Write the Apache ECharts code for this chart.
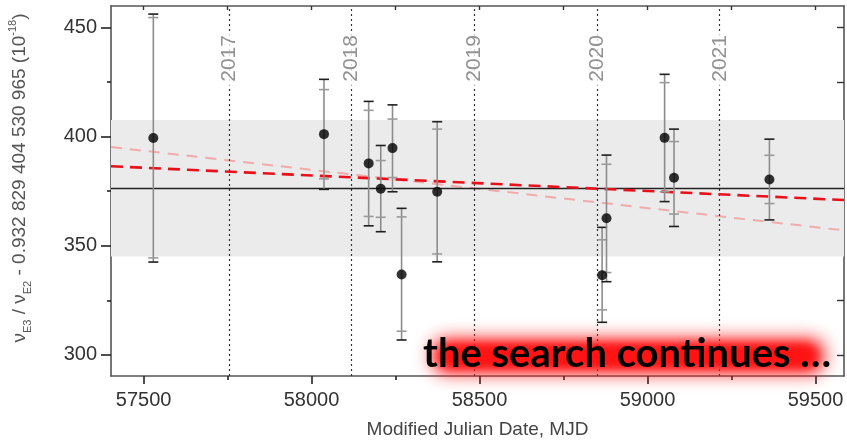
<!DOCTYPE html>
<html>
<head>
<meta charset="utf-8">
<script src="https://cdn.jsdelivr.net/npm/echarts@6/dist/echarts.min.js"></script>
<style>
html,body{margin:0;padding:0;background:#fff;}
#chart{width:847px;height:444px;}
</style>
</head>
<body>
<div id="chart"></div>
<script>
// ---- data ----
const mjd      = [57529, 58037, 58170, 58206, 58241, 58268, 58374, 58865, 58878, 59051, 59079, 59363];
const ratio    = [399.3, 401.1, 387.7, 376.1, 394.7, 336.8, 374.7, 336.5, 362.6, 399.4, 381.1, 380.3];
const totLow   = [342.5, 375.8, 359.1, 356.4, 374.7, 306.8, 342.6, 314.9, 333.5, 370.2, 358.8, 361.8];
const totHigh  = [456.1, 426.2, 416.1, 395.9, 414.5, 367.1, 406.8, 358.4, 391.5, 428.5, 403.4, 398.8];
const statLow  = [344.4, 380.6, 363.4, 363.0, 381.2, 310.8, 346.2, 320.6, 337.7, 374.7, 364.5, 369.3];
const statHigh = [454.5, 421.5, 412.0, 389.0, 408.0, 363.2, 403.4, 352.7, 387.3, 424.7, 397.7, 391.4];

const xMajor = [57500, 58000, 58500, 59000, 59500];
const xMinor = [57750, 58250, 58750, 59250];
const yMajor = [300, 350, 400, 450];
const yMinor = [325, 375, 425];

const yearMJD    = [57754, 58119, 58484, 58849, 59215];
const yearLabels = ['2017', '2018', '2019', '2020', '2021'];
const yearLabelY = [435.8, 435.8, 435.8, 435.8, 435.8];

const meanValue = [376.2];
const bandRange = [345.0, 407.6];
const fitX      = [57403, 59585];
const fitY      = [386.4, 370.9];
const trendY    = [395.2, 357.0];

const X_MIN = 57403, X_MAX = 59585;
const Y_MIN = 290.3, Y_MAX = 459.8;

const FONT = 'Liberation Sans, Arial, sans-serif';
const plain = v => String(Math.round(v));

const chart = echarts.init(document.getElementById('chart'));

const baseX = {type: 'value', min: X_MIN, max: X_MAX, splitLine: {show: false}};
const baseY = {type: 'value', min: Y_MIN, max: Y_MAX, splitLine: {show: false}};

const option = {
  animation: false,
  backgroundColor: '#fff',
  grid: {left: 111, top: 6, right: 3, bottom: 65, containLabel: false},
  xAxis: [
    Object.assign({}, baseX, {
      position: 'bottom',
      axisLine: {show: true, onZero: false, lineStyle: {color: '#555', width: 1.6}},
      axisTick: {show: true, inside: false, length: 8, customValues: xMajor, lineStyle: {color: '#222', width: 1.6}},
      axisLabel: {show: true, customValues: xMajor, formatter: plain, fontSize: 20, color: '#333', fontFamily: FONT, margin: 14},
      name: 'Modified Julian Date, MJD',
      nameLocation: 'middle',
      nameGap: 44,
      nameTextStyle: {fontSize: 19, color: '#444', fontFamily: FONT}
    }),
    Object.assign({}, baseX, {
      position: 'bottom',
      axisLine: {show: false, onZero: false},
      axisTick: {show: true, inside: false, length: 4, customValues: xMinor, lineStyle: {color: '#222', width: 1.6}},
      axisLabel: {show: false}
    }),
    Object.assign({}, baseX, {
      position: 'top',
      axisLine: {show: true, onZero: false, lineStyle: {color: '#555', width: 1.6}},
      axisTick: {show: true, inside: true, length: 4, customValues: xMajor.concat(xMinor), lineStyle: {color: '#333', width: 1.4}},
      axisLabel: {show: false}
    })
  ],
  yAxis: [
    Object.assign({}, baseY, {
      position: 'left',
      axisLine: {show: true, onZero: false, lineStyle: {color: '#555', width: 1.6}},
      axisTick: {show: true, inside: false, length: 10, customValues: yMajor, lineStyle: {color: '#222', width: 1.6}},
      axisLabel: {show: true, customValues: yMajor, formatter: plain, fontSize: 20, color: '#333', fontFamily: FONT, margin: 14}
    }),
    Object.assign({}, baseY, {
      position: 'left',
      axisLine: {show: false, onZero: false},
      axisTick: {show: true, inside: false, length: 4, customValues: yMinor, lineStyle: {color: '#222', width: 1.6}},
      axisLabel: {show: false}
    }),
    Object.assign({}, baseY, {
      position: 'right',
      axisLine: {show: true, onZero: false, lineStyle: {color: '#555', width: 1.6}},
      axisTick: {show: true, inside: true, length: 7, customValues: yMajor.concat(yMinor), lineStyle: {color: '#333', width: 1.4}},
      axisLabel: {show: false}
    })
  ],
  graphic: [
    {
      type: 'text',
      x: 20, y: 178,
      rotation: Math.PI / 2,
      z: 50,
      style: {
        text: '{m|ν}{s|E3}{m| / ν}{s|E2}{m| - 0.932 829 404 530 965 (10}{p|-18}{m|)}',
        align: 'center',
        verticalAlign: 'middle',
        rich: {
          m: {fontSize: 19, fontFamily: FONT, fill: '#555', color: '#555', lineHeight: 26},
          s: {fontSize: 11, fontFamily: FONT, fill: '#555', color: '#555', lineHeight: 12, verticalAlign: 'bottom'},
          p: {fontSize: 11, fontFamily: FONT, fill: '#555', color: '#555', lineHeight: 12, verticalAlign: 'top'}
        }
      }
    },
    {
      // soft red glow: only the (offset) shadow of an off-screen rect is visible
      type: 'rect',
      z: 100,
      shape: {x: 432 - 3000, y: 339, width: 392, height: 34, r: 14},
      style: {fill: '#ff0000', shadowBlur: 18, shadowOffsetX: 3000, shadowOffsetY: 0, shadowColor: 'rgba(255,20,20,1)'}
    },
    {
      type: 'rect',
      z: 100,
      shape: {x: 440 - 3000, y: 345, width: 376, height: 22, r: 10},
      style: {fill: '#ff0000', shadowBlur: 10, shadowOffsetX: 3000, shadowOffsetY: 0, shadowColor: 'rgba(255,20,20,1)'}
    },
    {
      type: 'text',
      z: 101,
      x: 423, y: 354,
      style: {
        text: 'the search continues …',
        font: 'bold 40px Lato, "Open Sans", sans-serif',
        fill: '#000',
        align: 'left',
        verticalAlign: 'middle'
      }
    }
  ],
  series: [
    {
      name: 'band',
      type: 'line',
      data: [],
      xAxisIndex: 0, yAxisIndex: 0,
      silent: true,
      z: 1,
      markArea: {
        silent: true,
        itemStyle: {color: '#ebebeb'},
        data: [[{yAxis: bandRange[0]}, {yAxis: bandRange[1]}]]
      }
    },
    {
      name: 'years',
      type: 'line',
      data: [],
      xAxisIndex: 0, yAxisIndex: 0,
      z: 2,
      markLine: {
        silent: true,
        symbol: ['none', 'none'],
        label: {show: false},
        lineStyle: {color: '#333', width: 1.2, type: [2, 3]},
        data: yearMJD.map(v => ({xAxis: v}))
      }
    },
    {
      name: 'yearLabels',
      type: 'scatter',
      xAxisIndex: 0, yAxisIndex: 0,
      symbolSize: 0,
      z: 20,
      zlevel: 0,
      data: yearMJD.map((v, i) => [v, yearLabelY[i], yearLabels[i]]),
      label: {
        show: true,
        position: 'inside',
        rotate: 90,
        formatter: p => p.value[2],
        fontSize: 21,
        color: '#777',
        fontFamily: FONT,
        backgroundColor: '#fff',
        padding: [1, 4, 1, 4],
        align: 'center',
        verticalAlign: 'middle'
      }
    },
    {
      name: 'trend',
      type: 'line',
      xAxisIndex: 0, yAxisIndex: 0,
      symbol: 'none',
      z: 4,
      data: fitX.map((x, i) => [x, trendY[i]]),
      lineStyle: {color: '#f2aaaa', width: 2, type: [11, 8]}
    },
    {
      name: 'mean',
      type: 'line',
      xAxisIndex: 0, yAxisIndex: 0,
      symbol: 'none',
      z: 5,
      data: [[X_MIN, meanValue[0]], [X_MAX, meanValue[0]]],
      lineStyle: {color: '#222', width: 1.6}
    },
    {
      name: 'fit',
      type: 'line',
      xAxisIndex: 0, yAxisIndex: 0,
      symbol: 'none',
      z: 6,
      data: fitX.map((x, i) => [x, fitY[i]]),
      lineStyle: {color: '#e8101a', width: 2.6, type: [12, 7]}
    },
    {
      name: 'errors',
      type: 'custom',
      xAxisIndex: 0, yAxisIndex: 0,
      z: 7,
      data: mjd.map((m, i) => [m, ratio[i], totLow[i], totHigh[i], statLow[i], statHigh[i]]),
      encode: {x: 0, y: [2, 3, 4, 5]},
      renderItem: function (params, api) {
        const xv = api.value(0);
        const x = api.coord([xv, api.value(1)])[0];
        const yTL = api.coord([xv, api.value(2)])[1];
        const yTH = api.coord([xv, api.value(3)])[1];
        const ySL = api.coord([xv, api.value(4)])[1];
        const ySH = api.coord([xv, api.value(5)])[1];
        const hw = 5;
        const cap = (y, c) => ({type: 'line', shape: {x1: x - hw, y1: y, x2: x + hw, y2: y}, style: {stroke: c, lineWidth: 1.6}});
        return {
          type: 'group',
          children: [
            {type: 'line', shape: {x1: x, y1: yTL, x2: x, y2: yTH}, style: {stroke: '#8c8c8c', lineWidth: 1.6}},
            cap(yTL, '#1e1e1e'),
            cap(yTH, '#1e1e1e'),
            cap(ySL, '#9a9a9a'),
            cap(ySH, '#9a9a9a')
          ]
        };
      }
    },
    {
      name: 'points',
      type: 'scatter',
      xAxisIndex: 0, yAxisIndex: 0,
      z: 8,
      symbol: 'circle',
      symbolSize: 10,
      itemStyle: {color: '#000'},
      data: mjd.map((m, i) => [m, ratio[i]])
    }
  ]
};

chart.setOption(option);
</script>
</body>
</html>
